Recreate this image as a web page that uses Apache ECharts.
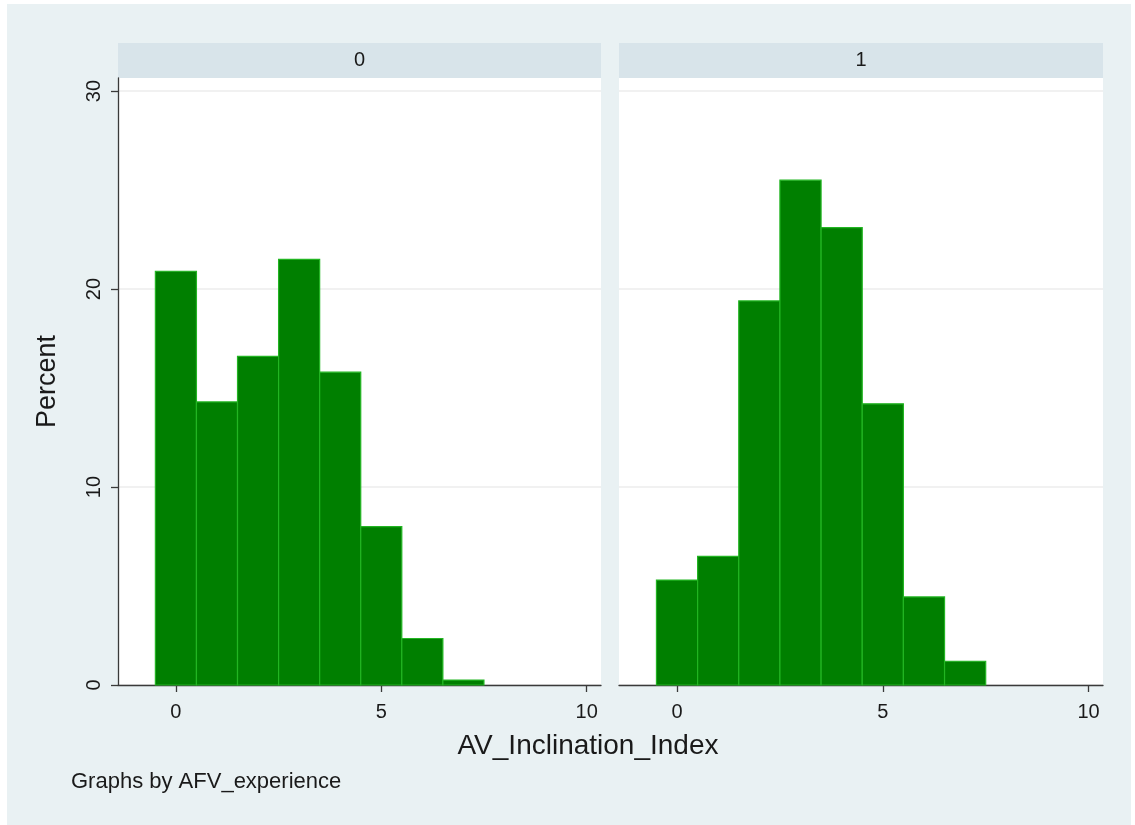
<!DOCTYPE html>
<html>
<head>
<meta charset="utf-8">
<script src="https://cdn.jsdelivr.net/npm/echarts@6/dist/echarts.min.js"></script>
<style>
html,body{margin:0;padding:0;background:#ffffff;}
#chart{width:1135px;height:825px;}
</style>
</head>
<body>
<div id="chart"></div>
<script>
// Data (histogram bins of width 1, centered at integers)
const binCenters = [0, 1, 2, 3, 4, 5, 6, 7];
const panelLabels = ['0', '1'];
const percent0 = [20.9, 14.3, 16.6, 21.5, 15.8, 8.0, 2.35, 0.25];
const percent1 = [5.3, 6.5, 19.4, 25.5, 23.1, 14.2, 4.45, 1.2];
const xTicks = [0, 5, 10];
const yTicks = [0, 10, 20, 30];
const xTitle = 'AV_Inclination_Index';
const yTitle = 'Percent';
const note = 'Graphs by AFV_experience';

const FONT = '"Liberation Sans", Arial, Helvetica, sans-serif';
const BAR_FILL = '#007f00';
const BAR_EDGE = '#22b522';
const GRID_COLOR = '#ececec';
const AXIS_COLOR = '#3a3a3a';
const OUTER_BG = '#e9f1f3';
const STRIP_BG = '#d8e4ea';

const panels = [
  {left: 118, right: 1135 - 601},
  {left: 619, right: 1135 - 1103}
];
const gridTop = 78, gridBottom = 825 - 685;

const chart = echarts.init(document.getElementById('chart'), null, {renderer: 'canvas'});

function renderBin(params, api) {
  const x = api.value(0), v = api.value(1);
  const p0 = api.coord([x - 0.5, v]);
  const p1 = api.coord([x + 0.5, 0]);
  return {
    type: 'rect',
    shape: {x: p0[0], y: p0[1], width: p1[0] - p0[0], height: p1[1] - p0[1]},
    style: {fill: BAR_FILL, stroke: BAR_EDGE, lineWidth: 1.2}
  };
}

const grids = panels.map(p => ({left: p.left, right: p.right, top: gridTop, bottom: gridBottom, backgroundColor: '#ffffff', show: true, borderWidth: 0}));

const xAxes = panels.map((p, i) => ({
  type: 'value', gridIndex: i, min: -1.41, max: 10.35,
  axisLine: {show: true, onZero: false, lineStyle: {color: AXIS_COLOR, width: 1.3}},
  axisTick: {show: true, length: 7, lineStyle: {color: AXIS_COLOR, width: 1.3}, customValues: xTicks},
  axisLabel: {show: true, fontSize: 20, color: '#1a1a1a', fontFamily: FONT, margin: 17, customValues: xTicks},
  splitLine: {show: false}
}));

const yAxes = panels.map((p, i) => ({
  type: 'value', gridIndex: i, min: 0, max: 30.66,
  name: i === 0 ? yTitle : '',
  nameLocation: 'middle', nameGap: 57, nameRotate: 90,
  nameTextStyle: {fontSize: 27, color: '#1a1a1a', fontFamily: FONT},
  axisLine: {show: i === 0, onZero: false, lineStyle: {color: AXIS_COLOR, width: 1.3}},
  axisTick: {show: i === 0, length: 7, lineStyle: {color: AXIS_COLOR, width: 1.3}, customValues: yTicks},
  axisLabel: {show: i === 0, rotate: 90, fontSize: 20, color: '#1a1a1a', fontFamily: FONT, margin: 14, customValues: yTicks},
  splitLine: {show: true, lineStyle: {color: GRID_COLOR, width: 1.5}}
}));

const series = [percent0, percent1].map((vals, i) => ({
  type: 'custom', xAxisIndex: i, yAxisIndex: i,
  renderItem: renderBin,
  data: binCenters.map((c, k) => [c, vals[k]]),
  encode: {x: 0, y: 1},
  silent: true, z: 3
}));

const graphics = [
  {type: 'rect', z: -10, shape: {x: 7, y: 4, width: 1124, height: 825}, style: {fill: OUTER_BG}},
];
panels.forEach((p, i) => {
  const x0 = p.left, x1 = 1135 - p.right;
  graphics.push({type: 'rect', z: -5, shape: {x: x0, y: 43, width: x1 - x0, height: 35}, style: {fill: STRIP_BG}});
  graphics.push({type: 'text', z: 5, x: (x0 + x1) / 2, y: 60, style: {text: panelLabels[i], font: '20px ' + FONT, fill: '#1a1a1a', textAlign: 'center', textVerticalAlign: 'middle'}});
});
graphics.push({type: 'text', x: 588, y: 746, style: {text: xTitle, font: '28px ' + FONT, fill: '#1a1a1a', textAlign: 'center', textVerticalAlign: 'middle'}});
graphics.push({type: 'text', x: 71, y: 782, style: {text: note, font: '22px ' + FONT, fill: '#1a1a1a', textAlign: 'left', textVerticalAlign: 'middle'}});

chart.setOption({
  backgroundColor: 'transparent',
  animation: false,
  grid: grids,
  xAxis: xAxes,
  yAxis: yAxes,
  series: series,
  graphic: graphics
});
</script>
</body>
</html>
